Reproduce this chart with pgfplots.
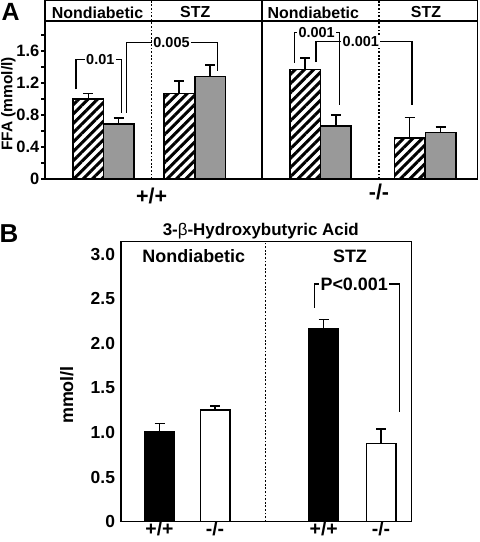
\documentclass[border=0pt]{standalone}
\usepackage{pgfplots}
\pgfplotsset{compat=1.18}
\usepackage{pgfplotstable}
\usepackage{fontspec}
\setmainfont{Liberation Sans}
\usetikzlibrary{patterns.meta}

\definecolor{bargray}{RGB}{153,153,153}
\newcommand\fs[1]{\bfseries\fontsize{#1}{#1}\selectfont}

% Panel A, +/+ (x in px from left edge of sub-panel)
\pgfplotstableread{
x y e
43.3 1.00 0.065
134 1.07 0.155
}\AoneHatch
\pgfplotstableread{
x y e
73.6 0.69 0.07
165 1.28 0.145
}\AoneGray
% Panel A, -/-
\pgfplotstableread{
x y e
43 1.37 0.14
147.65 0.51 0.26
}\AtwoHatch
\pgfplotstableread{
x y e
73.85 0.66 0.14
178.5 0.58 0.07
}\AtwoGray
% Panel B
\pgfplotstableread{
x y e
38.5 1.01 0.09
202.7 2.17 0.10
}\Bblack
\pgfplotstableread{
x y e
94 1.255 0.045
260 0.88 0.16
}\Bwhite

\tikzset{
  brk/.style={line width=1.3bp, black},
  brklab/.style={fill=white, inner sep=1.5bp, font=\fs{14.5}},
  dotv/.style={line width=1.3bp, dash pattern=on 1.8bp off 1.8bp},
}
\pgfplotsset{
  errstyle/.style={
    error bars/y dir=plus, error bars/y explicit,
    error bars/error bar style={line width=1.4bp,black,solid},
    error bars/error mark options={rotate=90,mark size=5bp,line width=1.4bp,black,solid}},
  hatchbar/.style={ybar, bar shift=0pt, bar width=30.5, draw=black, line width=1.5bp,
    fill=white, postaction={pattern={Lines[angle=45,distance=6.6bp,line width=3bp]}}, errstyle},
  graybar/.style={ybar, bar shift=0pt, bar width=30.5, draw=black, line width=1.5bp,
    fill=bargray, errstyle},
  Aaxis/.style={scale only axis, height=178.4bp, ymin=0, ymax=2.23, clip=false,
    axis line style={line width=1.5bp}, enlargelimits=false,
    x tick style={draw=none},
    xticklabel style={font=\fs{21.5}, inner sep=4.5bp},
    /pgf/number format/assume math mode=true},
}

\begin{document}
\begin{tikzpicture}[x=1bp,y=1bp]
\useasboundingbox (0,0) rectangle (480,542);

% ---------------- Panel A, +/+ ----------------
\begin{axis}[Aaxis, at={(45bp,363bp)}, anchor=south west, width=217bp,
  xmin=0, xmax=217,
  ytick={0,0.4,0.8,1.2,1.6}, yticklabels={0,0.4,0.8,1.2,1.6},
  minor ytick={0.2,0.6,1.0,1.4,1.8},
  ytick pos=left, tick align=outside, major tick length=4bp, minor tick length=4bp,
  y tick style={line width=1.2bp, black},
  yticklabel style={font=\fs{16.5}, inner sep=1.5bp},
  xtick={106.7}, xticklabels={+/+}]
\addplot[hatchbar] table[x=x,y=y,y error=e]{\AoneHatch};
\addplot[graybar] table[x=x,y=y,y error=e]{\AoneGray};
\draw[line width=1.5bp] (axis cs:0,1.975) -- (axis cs:217,1.975);
\draw[dotv] (axis cs:106.7,0) -- (axis cs:106.7,2.23);
\draw[brk] (axis cs:31,1.12) |- (axis cs:76.7,1.49) -- (axis cs:76.7,0.83);
\node[brklab] at (axis cs:55.3,1.49) {0.01};
\draw[brk] (axis cs:81.7,0.83) |- (axis cs:172.3,1.71) -- (axis cs:172.3,1.35);
\node[brklab] at (axis cs:126.5,1.71) {0.005};
\end{axis}

% ---------------- Panel A, -/- ----------------
\begin{axis}[Aaxis, at={(262bp,363bp)}, anchor=south west, width=215.3bp,
  xmin=0, xmax=215.3, ytick=\empty,
  xtick={117}, xticklabels={-/-}]
\addplot[hatchbar] table[x=x,y=y,y error=e]{\AtwoHatch};
\addplot[graybar] table[x=x,y=y,y error=e]{\AtwoGray};
\draw[line width=1.5bp] (axis cs:0,1.975) -- (axis cs:215.3,1.975);
\draw[dotv] (axis cs:117,0) -- (axis cs:117,2.23);
\draw[brk] (axis cs:32.3,1.45) |- (axis cs:77.3,1.83) -- (axis cs:77.3,0.925);
\node[brklab] at (axis cs:54.7,1.83) {0.001};
\draw[brk] (axis cs:54,1.46) |- (axis cs:150,1.72) -- (axis cs:150,0.925);
\node[brklab] at (axis cs:98.8,1.72) {0.001};
\end{axis}

% Panel A texts
\node[font=\fs{25}] at (10.5,530.5) {A};
\node[font=\fs{15.5}, rotate=90] at (8.5,438) {FFA (mmol/l)};
\node[font=\fs{16}] at (97.5,529.5) {Nondiabetic};
\node[font=\fs{16}] at (195.2,529.5) {STZ};
\node[font=\fs{16}] at (313.3,529.5) {Nondiabetic};
\node[font=\fs{16}] at (426,529.5) {STZ};

% ---------------- Panel B ----------------
\begin{axis}[at={(121bp,20.3bp)}, anchor=south west, scale only axis,
  width=290.7bp, height=280bp, xmin=0, xmax=290.7, ymin=0, ymax=3.142,
  enlargelimits=false, clip=false, axis line style={line width=1.5bp},
  ytick={0,0.5,1,1.5,2,2.5,3}, yticklabels={0,0.5,1.0,1.5,2.0,2.5,3.0},
  y tick style={draw=none}, x tick style={draw=none},
  yticklabel style={font=\fs{17.5}, xshift=-2.5bp},
  xtick={38.5,94,202.7,260}, xticklabels={+/+,-/-,+/+,-/-},
  xticklabel style={font=\fs{19.5}, inner sep=1bp, yshift=1.5bp},
  /pgf/number format/assume math mode=true]
\addplot[ybar, bar shift=0pt, bar width=29.5, draw=black, line width=1.5bp, fill=black, errstyle]
  table[x=x,y=y,y error=e]{\Bblack};
\addplot[ybar, bar shift=0pt, bar width=29.5, draw=black, line width=1.5bp, fill=white, errstyle]
  table[x=x,y=y,y error=e]{\Bwhite};
\draw[dotv] (axis cs:144.3,0) -- (axis cs:144.3,3.142);
\draw[brk] (axis cs:193.3,2.40) |- (axis cs:278.3,2.667) -- (axis cs:278.3,1.228);
\node[fill=white, inner sep=1.5bp, font=\fs{18}] at (axis cs:233.2,2.667) {P<0.001};
\end{axis}

\node[font=\fs{26}] at (9,308) {B};
\node[font=\fs{17}] at (260.8,311.3) {3-{\mdseries β}-Hydroxybutyric Acid};
\node[font=\fs{18}] at (193.8,286) {Nondiabetic};
\node[font=\fs{18}] at (350,286) {STZ};
\node[font=\fs{18}, rotate=90] at (66.7,147) {mmol/l};
\end{tikzpicture}
\end{document}
